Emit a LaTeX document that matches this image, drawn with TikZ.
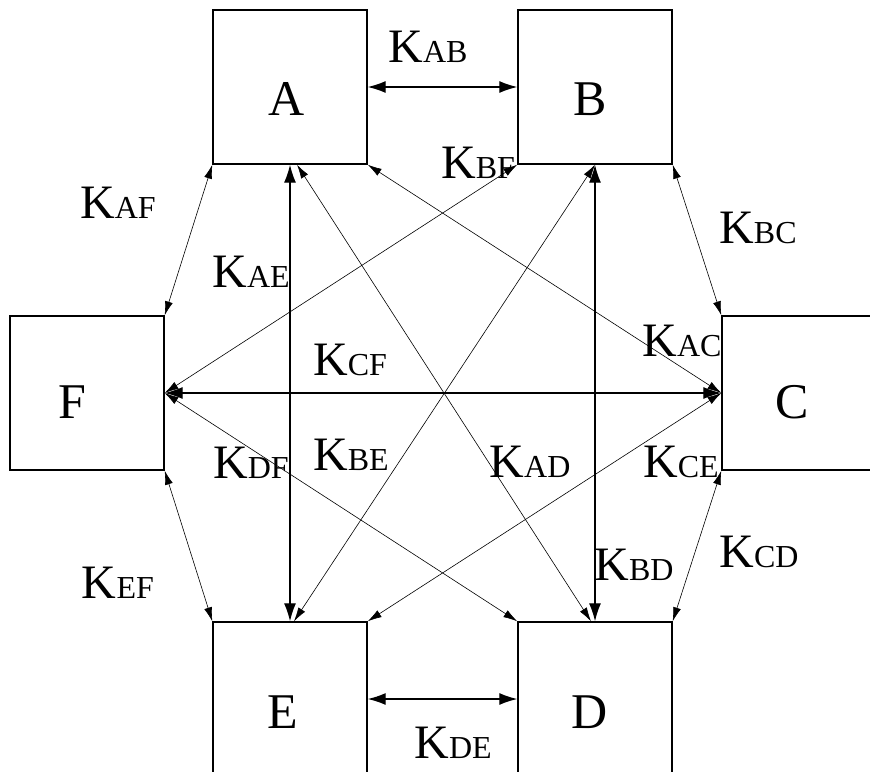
\documentclass[tikz,border=0pt]{standalone}
\usepackage{fontspec}
\setmainfont{Liberation Serif}
\usetikzlibrary{arrows.meta}
\tikzset{
  caja/.style={rectangle, draw, line width=1.4pt, minimum size=154pt, inner sep=0pt},
  letra/.style={font=\fontsize{50}{50}\selectfont, inner sep=0pt},
  flecha/.style={{Latex[length=18pt,width=12pt]}-{Latex[length=18pt,width=12pt]}, line width=1.3pt},
  flechafina/.style={{Latex[length=14pt,width=8pt]}-{Latex[length=14pt,width=8pt]}, line width=0.6pt},
  etiq/.style={font=\fontsize{48}{48}\selectfont, inner sep=0pt}
}
\newcommand{\coef}[1]{K{\fontsize{32}{32}\selectfont #1}}

\begin{document}
\begin{tikzpicture}[x=1pt,y=-1pt]
\clip (0,0) rectangle (870,771);

% cajas
\node[caja] (A) at (290,87) {};
\node[caja] (B) at (595,87) {};
\node[caja] (F) at (87,393) {};
\node[caja] (C) at (799,393) {};
\node[caja] (E) at (290,699) {};
\node[caja] (D) at (595,699) {};

\node[letra] (la) at (287,99) {A};
\node[letra] (lb) at (590,99) {B};
\node[letra] (lf) at (72,402) {F};
\node[letra] (lc) at (792,402) {C};
\node[letra] (le) at (283,712) {E};
\node[letra] (ld) at (590,712) {D};

% flechas gruesas
\draw[flecha] (A.east) -- (B.west);
\draw[flecha] (E.east) -- (D.west);
\draw[flecha] (A.south) -- (E.north);
\draw[flecha] (B.south) -- (D.north);
\draw[flecha] (F.east) -- (C.west);

% flechas finas
\draw[flechafina] (A.south west) -- (F.north east);
\draw[flechafina] (B.south east) -- (C.north west);
\draw[flechafina] (F.south east) -- (E.north west);
\draw[flechafina] (C.south west) -- (D.north east);
\draw[flechafina] (A.south east) -- (C.west);
\draw[flechafina] (B.south west) -- (F.east);
\draw[flechafina] (C.west) -- (E.north east);
\draw[flechafina] (F.east) -- (D.north west);
\draw[flechafina] ([xshift=7pt]A.south) -- ([xshift=-4pt]D.north);
\draw[flechafina] (B.south) -- ([xshift=4pt]E.north);

% etiquetas
\node[etiq] (kab) at (428,47) {\coef{AB}};
\node[etiq] (kde) at (453,743) {\coef{DE}};
\node[etiq] (kaf) at (118,203) {\coef{AF}};
\node[etiq] (kbc) at (758,228) {\coef{BC}};
\node[etiq] (kef) at (118,583) {\coef{EF}};
\node[etiq] (kcd) at (759,552) {\coef{CD}};
\node[etiq] (kae) at (251,272) {\coef{AE}};
\node[etiq] (kbf) at (478,163) {\coef{BF}};
\node[etiq] (kcf) at (350,360) {\coef{CF}};
\node[etiq] (kac) at (682,341) {\coef{AC}};
\node[etiq] (kbe) at (351,455) {\coef{BE}};
\node[etiq] (kad) at (530,462) {\coef{AD}};
\node[etiq] (kce) at (681,462) {\coef{CE}};
\node[etiq] (kdf) at (251,463) {\coef{DF}};
\node[etiq] (kbd) at (634,565) {\coef{BD}};
\end{tikzpicture}
\end{document}
